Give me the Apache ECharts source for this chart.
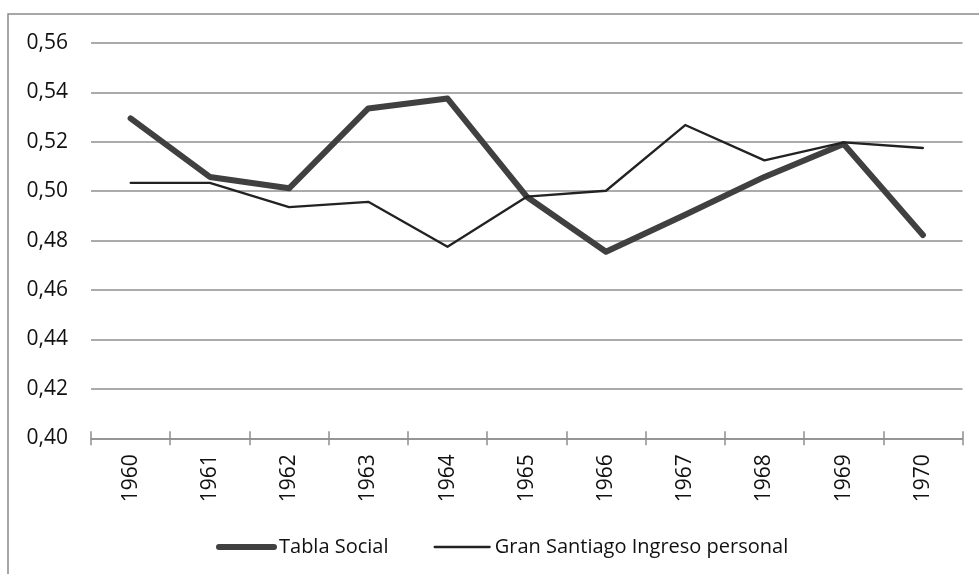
<!DOCTYPE html>
<html lang="es">
<head>
<meta charset="UTF-8">
<title>Tabla Social vs Gran Santiago</title>
<style>
  html, body { margin: 0; padding: 0; background: #fff; }
  #main { width: 979px; height: 574px; }
</style>
</head>
<body>
<div id="main"></div>
<script src="https://cdn.jsdelivr.net/npm/echarts@6/dist/echarts.min.js"></script>
<script>
// datos
var years = ['1960', '1961', '1962', '1963', '1964', '1965', '1966', '1967', '1968', '1969', '1970'];
var tablaSocial = [0.5295, 0.5058, 0.5012, 0.5335, 0.5375, 0.4978, 0.4755, 0.4905, 0.5058, 0.5191, 0.4823];
var granSantiago = [0.5034, 0.5034, 0.4936, 0.4957, 0.4775, 0.4978, 0.5002, 0.5268, 0.5125, 0.5198, 0.5175];
var seriesNames = ['Tabla Social', 'Gran Santiago Ingreso personal'];

var txtFont = '"Open Sans", sans-serif';
var gridColor = '#8f8f8f';
var thickColor = '#404040';
var thinColor = '#222222';

var chart = echarts.init(document.getElementById('main'));

var option = {
  animation: false,
  backgroundColor: '#fff',
  graphic: [{
    type: 'rect',
    shape: { x: 8, y: 14, width: 1200, height: 1000 },
    style: { fill: 'none', stroke: '#8a8a8a', lineWidth: 1.5 },
    silent: true
  }],
  grid: { left: 91, right: 16.5, top: 43, bottom: 135.7 },
  legend: {
    left: 211,
    top: 532,
    itemWidth: 55,
    itemHeight: 20,
    itemGap: 45,
    itemStyle: { opacity: 0 },
    data: [
      { name: seriesNames[0], lineStyle: { color: thickColor, width: 6, cap: 'round' } },
      { name: seriesNames[1], lineStyle: { color: thinColor, width: 2.3, cap: 'round' } }
    ],
    textStyle: { fontFamily: txtFont, fontSize: 20, color: '#111' }
  },
  xAxis: [{
    type: 'category',
    data: years,
    boundaryGap: true,
    axisLine: { lineStyle: { color: gridColor, width: 1.5 } },
    axisTick: { show: true, length: 7, lineStyle: { color: gridColor, width: 1.5 } },
    axisLabel: {
      rotate: 90,
      margin: 16,
      fontFamily: txtFont,
      fontSize: 21,
      color: '#111'
    }
  }, {
    // ticks que suben desde el eje
    type: 'category',
    data: years,
    boundaryGap: true,
    position: 'top',
    offset: -395.3,
    axisLine: { show: false },
    axisTick: { show: true, length: 7, lineStyle: { color: gridColor, width: 1.5 } },
    axisLabel: { show: false }
  }],
  yAxis: {
    type: 'value',
    min: 0.40,
    max: 0.56,
    interval: 0.02,
    axisLine: { show: false },
    axisTick: { show: false },
    splitLine: { lineStyle: { color: gridColor, width: 1.5 } },
    axisLabel: {
      margin: 23,
      fontFamily: txtFont,
      fontSize: 21,
      color: '#111',
      formatter: function (v) { return v.toFixed(2).replace('.', ','); }
    }
  },
  series: [{
    name: seriesNames[0],
    type: 'line',
    data: tablaSocial,
    symbol: 'none',
    lineStyle: { color: thickColor, width: 6, cap: 'round', join: 'round' },
    itemStyle: { color: thickColor }
  }, {
    name: seriesNames[1],
    type: 'line',
    data: granSantiago,
    symbol: 'none',
    lineStyle: { color: thinColor, width: 2.3, cap: 'round', join: 'round' },
    itemStyle: { color: thinColor }
  }]
};

chart.setOption(option);
</script>
</body>
</html>
